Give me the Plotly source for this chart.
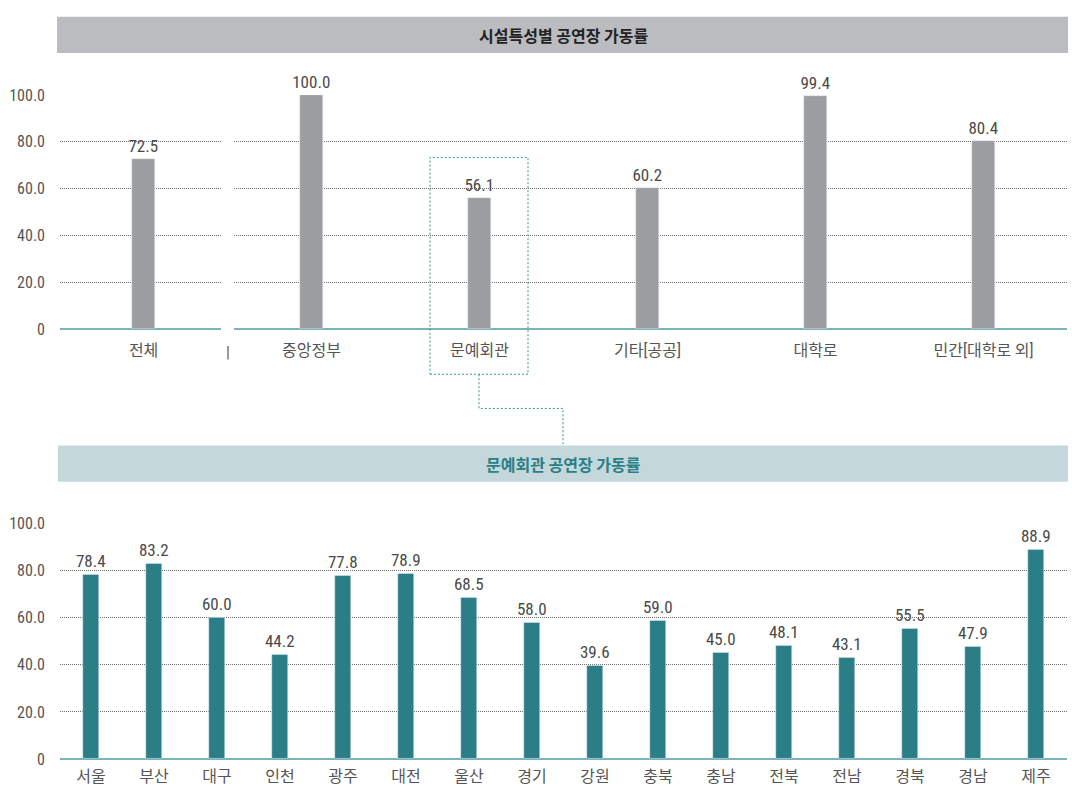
import plotly.graph_objects as go

# ---------------- data ----------------
top_total_cat = ["전체"]
top_total_val = [72.5]
top_cats = ["중앙정부", "문예회관", "기타[공공]", "대학로", "민간[대학로 외]"]
top_vals = [100.0, 56.1, 60.2, 99.4, 80.4]

bot_cats = ["서울", "부산", "대구", "인천", "광주", "대전", "울산", "경기",
            "강원", "충북", "충남", "전북", "전남", "경북", "경남", "제주"]
bot_vals = [78.4, 83.2, 60.0, 44.2, 77.8, 78.9, 68.5, 58.0,
            39.6, 59.0, 45.0, 48.1, 43.1, 55.5, 47.9, 88.9]

y_tickvals = [0, 20, 40, 60, 80, 100]
y_ticktext = ["0", "20.0", "40.0", "60.0", "80.0", "100.0"]

title_top = "시설특성별 공연장 가동률"
title_bot = "문예회관 공연장 가동률"

# ---------------- layout helpers (pixel -> paper) ----------------
W, H = 1072, 811
def fx(p): return p / W
def fy(p): return 1 - p / H

FONT = "Liberation Sans Narrow, Roboto Condensed, Arial Narrow, Noto Sans CJK KR, sans-serif"
KFONT = "Noto Sans CJK KR, Noto Sans, sans-serif"
GREY_BAR = "#9c9da1"
TEAL_BAR = "#2b7e86"
BASE = "#7ab4bb"
GRID = "#6e6e6e"
TXT = "#4a4a4a"

fig = go.Figure()

val_font = dict(family=FONT, size=17, color=TXT)

fig.add_trace(go.Bar(x=top_total_cat, y=top_total_val, xaxis="x", yaxis="y",
                     marker_color=GREY_BAR, width=0.135,
                     texttemplate="%{y:.1f}", textposition="outside", constraintext="none",
                     textfont=val_font, cliponaxis=False,
                     showlegend=False, hoverinfo="skip"))
fig.add_trace(go.Bar(x=top_cats, y=top_vals, xaxis="x2", yaxis="y2",
                     marker_color=GREY_BAR, width=0.135,
                     texttemplate="%{y:.1f}", textposition="outside", constraintext="none",
                     textfont=val_font, cliponaxis=False,
                     showlegend=False, hoverinfo="skip"))
fig.add_trace(go.Bar(x=bot_cats, y=bot_vals, xaxis="x3", yaxis="y3",
                     marker_color=TEAL_BAR, width=0.254,
                     texttemplate="%{y:.1f}", textposition="outside", constraintext="none",
                     textfont=val_font, cliponaxis=False,
                     showlegend=False, hoverinfo="skip"))

cat_font = dict(family=FONT, size=16, color="#555555")
tick_font = dict(family=FONT, size=16, color="#555555")

def xax(domain, rng, standoff):
    return dict(domain=domain, range=rng, type="category", showgrid=False,
                zeroline=False, showline=False, ticks="", tickfont=cat_font,
                ticklabelstandoff=standoff, fixedrange=True)

def yax(domain, anchor, show_labels):
    return dict(domain=domain, anchor=anchor, range=[0, 100], tickvals=y_tickvals,
                ticktext=y_ticktext, showticklabels=show_labels, tickfont=tick_font,
                showgrid=True, gridcolor=GRID, gridwidth=1, griddash="1px,1px",
                zeroline=True, zerolinecolor=BASE, zerolinewidth=2,
                showline=False, ticks="", ticklabelstandoff=14, fixedrange=True)

top_dom = [fy(328), fy(88)]
bot_dom = [fy(768), fy(527)]

fig.update_layout(
    width=W, height=H,
    margin=dict(l=0, r=0, t=0, b=0),
    paper_bgcolor="white", plot_bgcolor="white",
    bargap=0,
    xaxis=dict(**xax([fx(60), fx(221)], [-0.498, 0.461], 10), anchor="y"),
    yaxis=yax(top_dom, "x", True),
    xaxis2=dict(**xax([fx(234), fx(1067)], [-0.461, 4.497], 10), anchor="y2"),
    yaxis2=yax(top_dom, "x2", False),
    xaxis3=dict(**xax([fx(60), fx(1067)], [-0.492, 15.492], 6), anchor="y3"),
    yaxis3=yax(bot_dom, "x3", True),
)

shapes = [
    dict(type="rect", xref="paper", yref="paper", x0=fx(57), x1=fx(1068), y0=fy(45), y1=fy(8),
         fillcolor="#bbbcc0", line=dict(width=0), layer="below"),
    dict(type="rect", xref="paper", yref="paper", x0=fx(58), x1=fx(1068), y0=fy(484), y1=fy(447),
         fillcolor="#c4d8db", line=dict(width=0), layer="below"),
    dict(type="line", xref="paper", yref="paper", x0=fx(228), x1=fx(228), y0=fy(345), y1=fy(359),
         line=dict(color="#777777", width=1.5)),
    dict(type="rect", xref="paper", yref="paper", x0=fx(430), x1=fx(528), y0=fy(374), y1=fy(152),
         line=dict(color="#3a8f97", width=1, dash="2px,2px"), fillcolor="rgba(0,0,0,0)"),
    dict(type="path", xref="paper", yref="paper",
         path=f"M {fx(479)} {fy(374)} L {fx(479)} {fy(409)} L {fx(563)} {fy(409)} L {fx(563)} {fy(447)}",
         line=dict(color="#3a8f97", width=1, dash="2px,2px")),
]
fig.update_layout(shapes=shapes)

fig.add_annotation(text=f"<b>{title_top}</b>", xref="paper", yref="paper",
                   x=fx(563), y=fy(26.5), showarrow=False, xanchor="center", yanchor="middle",
                   font=dict(family=KFONT, size=16, color="#222222"))
fig.add_annotation(text=f"<b>{title_bot}</b>", xref="paper", yref="paper",
                   x=fx(563), y=fy(465.5), showarrow=False, xanchor="center", yanchor="middle",
                   font=dict(family=KFONT, size=16, color="#2a7f87"))

post = (
    "var de=document.documentElement,b=document.body;"
    "de.style.margin='0';de.style.padding='0';de.style.overflow='hidden';"
    "b.style.margin='0';b.style.padding='0';b.style.overflow='hidden';"
    "var d=document.getElementById('{plot_id}');"
    "if(d){d.style.position='fixed';d.style.left='0px';d.style.top='0px';}"
)
fig.write_html("out.html", post_script=post, config={"displayModeBar": False})
